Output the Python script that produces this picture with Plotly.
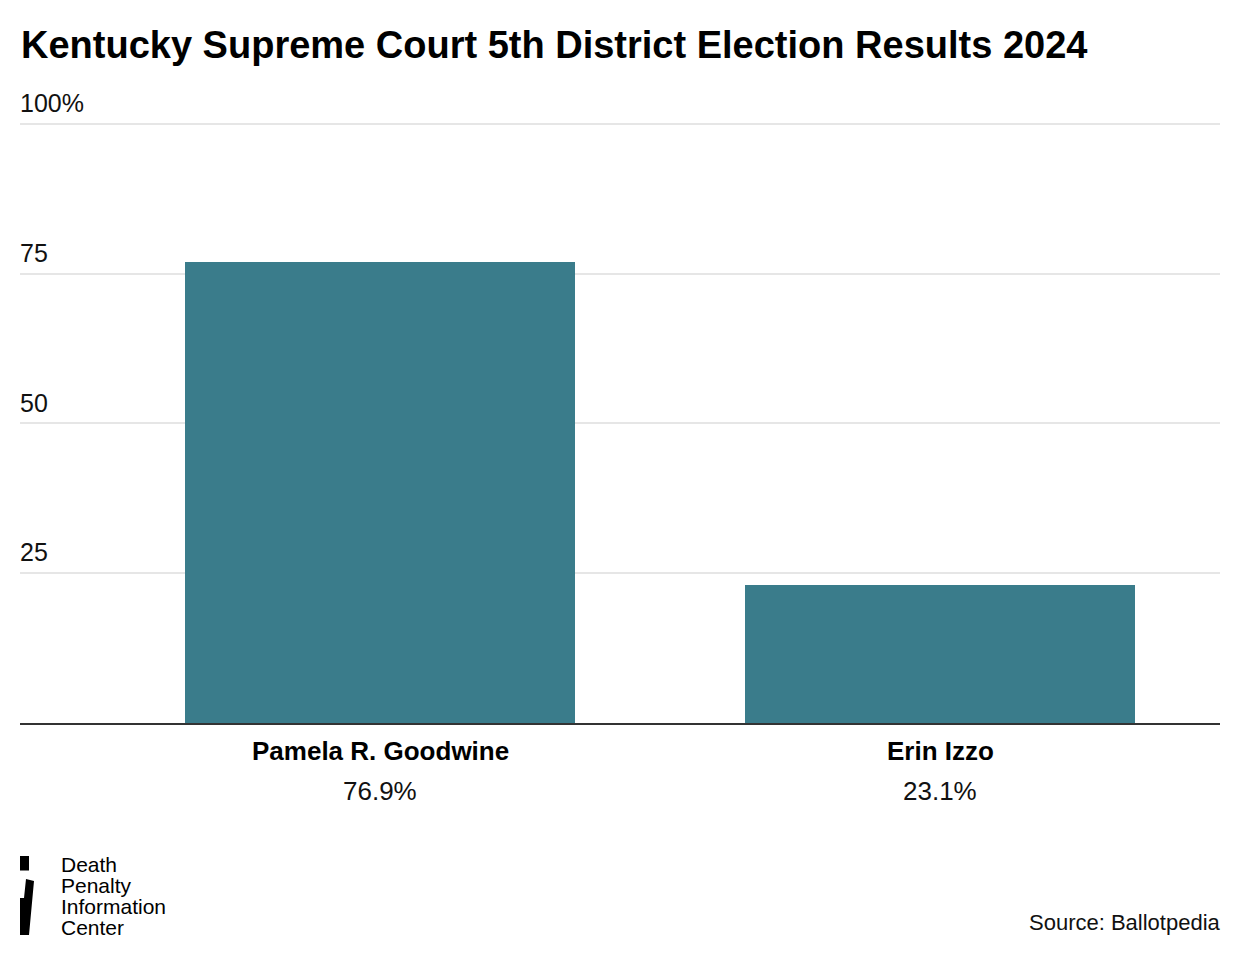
import plotly.graph_objects as go

candidates = ["Pamela R. Goodwine", "Erin Izzo"]
vote_share = [76.9, 23.1]
y_tick_values = [25, 50, 75, 100]
y_tick_labels = ["25", "50", "75", "100%"]
logo_lines = ["Death", "Penalty", "Information", "Center"]

W, H = 1240, 956
Y_MAX = 106
ZERO_PX, HUNDRED_PX = 723, 124
unit = (ZERO_PX - HUNDRED_PX) / 100.0
L, R = 20, 20
B = H - ZERO_PX
T = ZERO_PX - Y_MAX * unit
plot_h = H - T - B

def py(p):
    return (ZERO_PX - p) / plot_h

def px(p):
    return (p - L) / (W - L - R)

FONT = "Liberation Sans"
BAR = "#3a7c8b"

fig = go.Figure()
fig.add_trace(go.Bar(
    x=candidates, y=vote_share, marker=dict(color=BAR, line=dict(width=0)),
    width=0.698, hoverinfo="skip",
))

annotations = [
    dict(text="<b>Kentucky Supreme Court 5th District Election Results 2024</b>",
         xref="paper", yref="paper", x=px(19), y=py(45), xanchor="left", yanchor="middle",
         showarrow=False, font=dict(family=FONT, size=38, color="#000")),
    dict(text="Source: Ballotpedia", xref="paper", yref="paper", x=px(1223), y=py(922),
         xanchor="right", yanchor="middle", showarrow=False,
         font=dict(family=FONT, size=22, color="#111")),
]
for c, v in zip(candidates, vote_share):
    annotations.append(dict(text=f"<b>{c}</b>", xref="x", yref="paper", x=c, y=py(751),
                            xanchor="center", yanchor="middle", showarrow=False,
                            font=dict(family=FONT, size=26, color="#000")))
    annotations.append(dict(text=f"{v:.1f}%", xref="x", yref="paper", x=c, y=py(791),
                            xanchor="center", yanchor="middle", showarrow=False,
                            font=dict(family=FONT, size=26, color="#111")))
for i, t in enumerate(logo_lines):
    annotations.append(dict(text=t, xref="paper", yref="paper", x=px(59), y=py(864 + i * 21.3),
                            xanchor="left", yanchor="middle", showarrow=False,
                            font=dict(family=FONT, size=21, color="#000")))

shapes = []
shapes.append(dict(type="rect", xref="paper", yref="paper", x0=px(20), y0=py(856), x1=px(29), y1=py(870.5),
                   fillcolor="#000", line=dict(width=0), layer="above"))
pts = [(26, 879), (34, 881), (29, 935), (20, 935), (20, 898), (24, 898)]
path = "M " + " L ".join(f"{px(a)},{py(b)}" for a, b in pts) + " Z"
shapes.append(dict(type="path", xref="paper", yref="paper", path=path,
                   fillcolor="#000", line=dict(width=0), layer="above"))

fig.update_layout(
    width=W, height=H,
    margin=dict(l=L, r=R, t=T, b=B, pad=0),
    paper_bgcolor="white", plot_bgcolor="white",
    showlegend=False,
    annotations=annotations,
    shapes=shapes,
    bargap=0,
    xaxis=dict(range=[-0.643, 1.5], showticklabels=False, ticks="", showgrid=False,
               showline=True, linecolor="#333", linewidth=2, zeroline=False, fixedrange=True),
    yaxis=dict(range=[0, Y_MAX], tickvals=y_tick_values, ticktext=y_tick_labels,
               ticklabelposition="inside top", ticklabelshift=-3, ticklabelstandoff=-3,
               showgrid=True, gridcolor="#e6e6e6", gridwidth=2,
               zeroline=False, showline=False, ticks="",
               tickfont=dict(family=FONT, size=25, color="#111"), fixedrange=True),
)

fig.write_html("out.html", config={"displayModeBar": False},
               post_script="document.body.style.margin='0';document.body.style.overflow='hidden';")
